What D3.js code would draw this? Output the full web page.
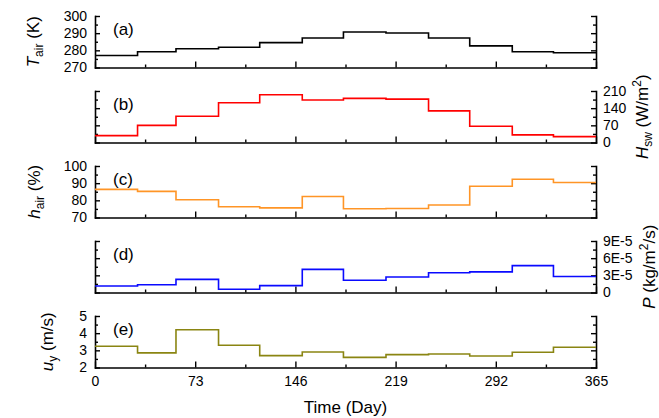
<!DOCTYPE html>
<html>
<head>
<meta charset="utf-8">
<script src="https://cdn.jsdelivr.net/npm/d3@7"></script>
<style>
  html, body { margin: 0; padding: 0; background: #fff; }
  svg { display: block; font-family: "Liberation Sans", Arial, sans-serif; }
</style>
</head>
<body>
<svg id="chart" width="659" height="418"></svg>
<script>
// Monthly boundaries over one year (day of year where each month starts)
const monthStartDays = [0, 31, 59, 90, 120, 151, 181, 212, 243, 273, 304, 334];
const yearEnd = 365;

// Monthly means
const airTemperature = [277.0, 279.2, 280.9, 281.8, 284.5, 287.2, 290.7, 290.1, 287.2, 282.6, 279.2, 278.6]; // K
const shortwaveFlux  = [28, 70, 107, 162, 195, 173, 180, 177, 129, 66, 31, 24];                           // W/m2
const airHumidity    = [86.4, 85.2, 80.3, 76.3, 75.6, 82.2, 75.1, 75.2, 77.3, 88.2, 92.3, 90.4];         // %
const precipitation  = [1.13e-5, 1.35e-5, 2.3e-5, 0.56e-5, 1.2e-5, 4.05e-5, 2.15e-5, 2.7e-5, 3.45e-5, 3.6e-5, 4.7e-5, 2.8e-5]; // kg/m2/s
const windSpeed      = [3.24, 2.85, 4.2, 3.3, 2.69, 2.9, 2.59, 2.75, 2.79, 2.67, 2.89, 3.18];              // m/s

// Tick values
const dayTicks      = [0, 73, 146, 219, 292, 365];
const dayMinorTicks = [36.5, 109.5, 182.5, 255.5, 328.5];
const tempTicks  = [270, 280, 290, 300];
const tempMinor  = [275, 285, 295];
const swTicks    = [0, 70, 140, 210];
const swMinor    = [35, 105, 175];
const humTicks   = [70, 80, 90, 100];
const humMinor   = [75, 85, 95];
const precTicks  = [0, 3e-5, 6e-5, 9e-5];
const precMinor  = [1.5e-5, 4.5e-5, 7.5e-5];
const windTicks  = [2, 3, 4, 5];
const windMinor  = [2.5, 3.5, 4.5];

const panelLetters = ["(a)", "(b)", "(c)", "(d)", "(e)"];

const precFormat = v => v === 0 ? "0" : Math.round(v / 1e-5) + "E-5";

const panels = [
  { values: airTemperature, domain: [270, 300], ticks: tempTicks, minor: tempMinor, color: "#000000", side: "left",
    fmt: d3.format("d"), title: { main: "T", sub: "air", rest: " (K)" }, titleX: 38.5 },
  { values: shortwaveFlux, domain: [0, 210], ticks: swTicks, minor: swMinor, color: "#ff0000", side: "right",
    fmt: d3.format("d"), title: { main: "H", sub: "sw", rest: " (W/m", sup: "2", end: ")" }, titleX: 648 },
  { values: airHumidity, domain: [70, 100], ticks: humTicks, minor: humMinor, color: "#ff9526", side: "left",
    fmt: d3.format("d"), title: { main: "h", sub: "air", rest: " (%)" }, titleX: 39.5 },
  { values: precipitation, domain: [0, 9e-5], ticks: precTicks, minor: precMinor, color: "#0a0aff", side: "right",
    fmt: precFormat, title: { main: "P", rest: " (kg/m", sup: "2", end: "/s)" }, titleX: 655 },
  { values: windSpeed, domain: [2, 5], ticks: windTicks, minor: windMinor, color: "#8a8512", side: "left",
    fmt: d3.format("d"), title: { main: "u", sub: "y", rest: " (m/s)" }, titleX: 52.5 }
];

const svg = d3.select("#chart");
const left = 95, right = 596;
const panelTop0 = 16, panelStep = 75, panelH = 51.5;

const x = d3.scaleLinear().domain([0, yearEnd]).range([left, right]);

function styleAxis(g) {
  g.select(".domain").attr("stroke", "#000").attr("stroke-width", 1.6).attr("stroke-linecap", "square");
  g.selectAll(".tick line").attr("stroke", "#000").attr("stroke-width", 1.4);
  g.selectAll(".tick text").attr("fill", "#000").attr("font-size", 14);
}

panels.forEach((p, i) => {
  const top = panelTop0 + i * panelStep;
  const bottom = top + panelH;
  const y = d3.scaleLinear().domain(p.domain).range([bottom, top]);
  const g = svg.append("g");

  // bottom axis, ticks pointing into the panel
  const isLast = i === panels.length - 1;
  g.append("g").attr("transform", `translate(0,${bottom})`)
    .call(d3.axisBottom(x).tickValues(dayMinorTicks).tickSize(-3).tickSizeOuter(0).tickFormat(""))
    .call(a => a.select(".domain").remove())
    .call(styleAxis);
  g.append("g").attr("transform", `translate(0,${bottom})`)
    .call(d3.axisBottom(x).tickValues(dayTicks).tickSize(-6).tickSizeOuter(0).tickPadding(9)
      .tickFormat(isLast ? d3.format("d") : ""))
    .call(styleAxis);

  // left and right axes
  [["left", d3.axisLeft, left, 8], ["right", d3.axisRight, right, 7]].forEach(([side, axisFn, pos, pad]) => {
    g.append("g").attr("transform", `translate(${pos},0)`)
      .call(axisFn(y).tickValues(p.minor).tickSize(-3).tickSizeOuter(0).tickFormat(""))
      .call(a => a.select(".domain").remove())
      .call(styleAxis);
    g.append("g").attr("transform", `translate(${pos},0)`)
      .call(axisFn(y).tickValues(p.ticks).tickSize(-5).tickSizeOuter(0).tickPadding(pad)
        .tickFormat(p.side === side ? p.fmt : ""))
      .call(styleAxis);
  });

  // monthly step series
  const pts = monthStartDays.map((d, k) => [d, p.values[k]]);
  pts.push([yearEnd, p.values[p.values.length - 1]]);
  g.append("path")
    .datum(pts)
    .attr("fill", "none")
    .attr("stroke", p.color)
    .attr("stroke-width", 1.6)
    .attr("d", d3.line().x(d => x(d[0])).y(d => y(d[1])).curve(d3.curveStepAfter));

  // panel letter
  g.append("text")
    .attr("x", left + 18).attr("y", top + 19)
    .attr("font-size", 17).attr("fill", "#000")
    .text(panelLetters[i]);

  // axis title
  const cy = (top + bottom) / 2;
  const t = g.append("text")
    .attr("transform", `translate(${p.titleX},${cy}) rotate(-90)`)
    .attr("text-anchor", "middle")
    .attr("font-size", 17).attr("fill", "#000");
  t.append("tspan").attr("font-style", "italic").text(p.title.main);
  if (p.title.sub) {
    t.append("tspan").attr("font-size", 12).attr("dy", 4).text(p.title.sub);
    t.append("tspan").attr("dy", -4).text(p.title.rest);
  } else {
    t.append("tspan").text(p.title.rest);
  }
  if (p.title.sup) {
    t.append("tspan").attr("font-size", 12).attr("dy", -7).text(p.title.sup);
    t.append("tspan").attr("dy", 7).text(p.title.end);
  }
});

// shared x-axis title
svg.append("text")
  .attr("x", (left + right) / 2).attr("y", 413)
  .attr("text-anchor", "middle")
  .attr("font-size", 17).attr("fill", "#000")
  .text("Time (Day)");
</script>
</body>
</html>
